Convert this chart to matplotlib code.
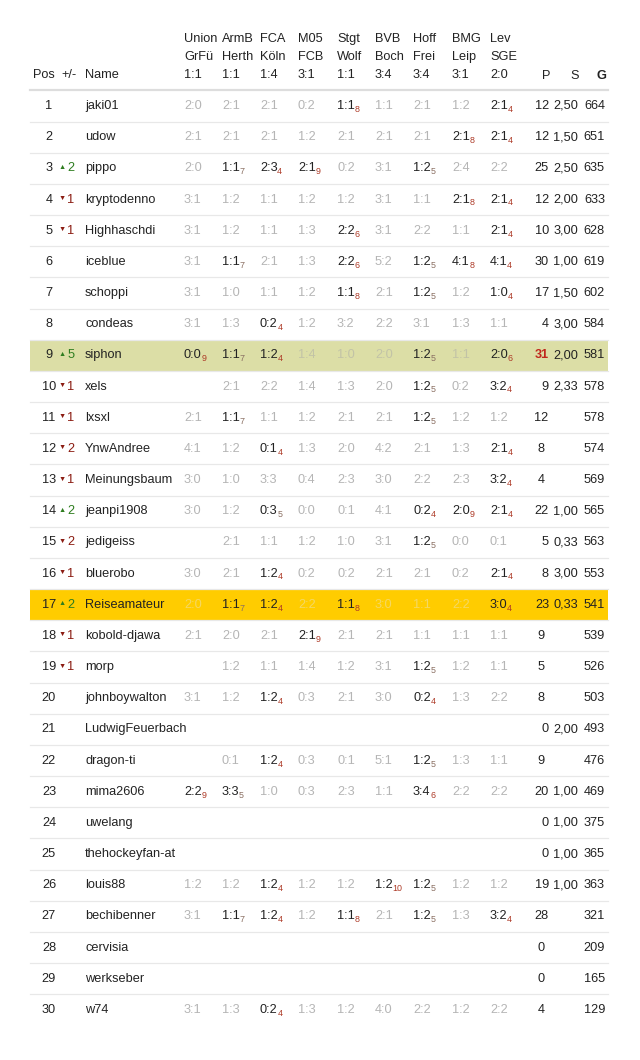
import matplotlib
matplotlib.use('Agg')
import matplotlib.pyplot as plt
from matplotlib.patches import Rectangle

plt.rcParams['font.family'] = ['Liberation Sans', 'DejaVu Sans']

# Kopfzeilen der Spiele
teams_home = ["Union", "ArmB", "FCA", "M05", "Stgt", "BVB", "Hoff", "BMG", "Lev"]
teams_away = ["GrFü", "Herth", "Köln", "FCB", "Wolf", "Boch", "Frei", "Leip", "SGE"]
results = ["1:1", "1:1", "1:4", "3:1", "1:1", "3:4", "3:4", "3:1", "2:0"]

positions = list(range(1, 31))
changes = ["", "", "+2", "-1", "-1", "", "", "", "+5", "-1",
           "-1", "-2", "-1", "+2", "-2", "-1", "+2", "-1", "-1", "",
           "", "", "", "", "", "", "", "", "", ""]
names = ["jaki01", "udow", "pippo", "kryptodenno", "Highhaschdi", "iceblue", "schoppi",
         "condeas", "siphon", "xels", "lxsxl", "YnwAndree", "Meinungsbaum", "jeanpi1908",
         "jedigeiss", "bluerobo", "Reiseamateur", "kobold-djawa", "morp", "johnboywalton",
         "LudwigFeuerbach", "dragon-ti", "mima2606", "uwelang", "thehockeyfan-at",
         "louis88", "bechibenner", "cervisia", "werkseber", "w74"]

# Tipps: "Tipp|Punkte" wenn gepunktet, "" wenn kein Tipp
E = [""] * 9
tips = [
    ["2:0", "2:1", "2:1", "0:2", "1:1|8", "1:1", "2:1", "1:2", "2:1|4"],
    ["2:1", "2:1", "2:1", "1:2", "2:1", "2:1", "2:1", "2:1|8", "2:1|4"],
    ["2:0", "1:1|7", "2:3|4", "2:1|9", "0:2", "3:1", "1:2|5", "2:4", "2:2"],
    ["3:1", "1:2", "1:1", "1:2", "1:2", "3:1", "1:1", "2:1|8", "2:1|4"],
    ["3:1", "1:2", "1:1", "1:3", "2:2|6", "3:1", "2:2", "1:1", "2:1|4"],
    ["3:1", "1:1|7", "2:1", "1:3", "2:2|6", "5:2", "1:2|5", "4:1|8", "4:1|4"],
    ["3:1", "1:0", "1:1", "1:2", "1:1|8", "2:1", "1:2|5", "1:2", "1:0|4"],
    ["3:1", "1:3", "0:2|4", "1:2", "3:2", "2:2", "3:1", "1:3", "1:1"],
    ["0:0|9", "1:1|7", "1:2|4", "1:4", "1:0", "2:0", "1:2|5", "1:1", "2:0|6"],
    ["", "2:1", "2:2", "1:4", "1:3", "2:0", "1:2|5", "0:2", "3:2|4"],
    ["2:1", "1:1|7", "1:1", "1:2", "2:1", "2:1", "1:2|5", "1:2", "1:2"],
    ["4:1", "1:2", "0:1|4", "1:3", "2:0", "4:2", "2:1", "1:3", "2:1|4"],
    ["3:0", "1:0", "3:3", "0:4", "2:3", "3:0", "2:2", "2:3", "3:2|4"],
    ["3:0", "1:2", "0:3|5", "0:0", "0:1", "4:1", "0:2|4", "2:0|9", "2:1|4"],
    ["", "2:1", "1:1", "1:2", "1:0", "3:1", "1:2|5", "0:0", "0:1"],
    ["3:0", "2:1", "1:2|4", "0:2", "0:2", "2:1", "2:1", "0:2", "2:1|4"],
    ["2:0", "1:1|7", "1:2|4", "2:2", "1:1|8", "3:0", "1:1", "2:2", "3:0|4"],
    ["2:1", "2:0", "2:1", "2:1|9", "2:1", "2:1", "1:1", "1:1", "1:1"],
    ["", "1:2", "1:1", "1:4", "1:2", "3:1", "1:2|5", "1:2", "1:1"],
    ["3:1", "1:2", "1:2|4", "0:3", "2:1", "3:0", "0:2|4", "1:3", "2:2"],
    E,
    ["", "0:1", "1:2|4", "0:3", "0:1", "5:1", "1:2|5", "1:3", "1:1"],
    ["2:2|9", "3:3|5", "1:0", "0:3", "2:3", "1:1", "3:4|6", "2:2", "2:2"],
    E,
    E,
    ["1:2", "1:2", "1:2|4", "1:2", "1:2", "1:2|10", "1:2|5", "1:2", "1:2"],
    ["3:1", "1:1|7", "1:2|4", "1:2", "1:1|8", "2:1", "1:2|5", "1:3", "3:2|4"],
    E,
    E,
    ["3:1", "1:3", "0:2|4", "1:3", "1:2", "4:0", "2:2", "1:2", "2:2"],
]
points = [12, 12, 25, 12, 10, 30, 17, 4, 31, 9, 12, 8, 4, 22, 5, 8, 23, 9, 5, 8,
          0, 9, 20, 0, 0, 19, 28, 0, 0, 4]
s_vals = ["2,50", "1,50", "2,50", "2,00", "3,00", "1,00", "1,50", "3,00", "2,00", "2,33",
          "", "", "", "1,00", "0,33", "3,00", "0,33", "", "", "",
          "2,00", "", "1,00", "1,00", "1,00", "1,00", "", "", "", ""]
g_vals = [664, 651, 635, 633, 628, 619, 602, 584, 581, 578, 578, 574, 569, 565, 563,
          553, 541, 539, 526, 503, 493, 476, 469, 375, 365, 363, 321, 209, 165, 129]

# Hervorgehobene Zeilen: Position -> (Hintergrund, Farbe der grauen Tipps)
highlights = {9: ("#dcdea6", "#c2c3a6"), 17: ("#ffcc00", "#f5d862")}

# Layout (Pixel)
W, H = 640, 1060
X_LEFT, X_RIGHT = 30, 608
X_POS, X_ARROW, X_CHG, X_NAME = 49, 62, 67.5, 85
X_GAMES = [184, 222, 260, 298, 337, 375, 413, 452, 490]
X_P, X_P_CENTER, X_S, X_G = 549, 541, 578, 605
Y_HEAD = [39, 57, 75]
Y_LINE_HEAD = 90
Y_FIRST, ROW_H = 106, 31.17

FS = 9.2
DARK = "#222222"
GREY = "#b5b5b5"
UP, DOWN = "#2e7d1f", "#8b1c12"


def sub_color(p):
    return "#8a6f62" if p in (5, 7) else "#ad3a27"


def main():
    fig = plt.figure(figsize=(W / 100, H / 100), dpi=100)
    ax = fig.add_axes([0, 0, 1, 1])
    ax.set_xlim(0, W)
    ax.set_ylim(H, 0)
    ax.axis('off')

    # Kopf
    for i in range(len(teams_home)):
        ax.text(X_GAMES[i], Y_HEAD[0], teams_home[i], fontsize=FS, color=DARK, va='center')
        ax.text(X_GAMES[i], Y_HEAD[1], teams_away[i], fontsize=FS, color=DARK, va='center')
        ax.text(X_GAMES[i], Y_HEAD[2], results[i], fontsize=FS, color=DARK, va='center')
    ax.text(33, Y_HEAD[2], "Pos", fontsize=FS, color=DARK, va='center')
    ax.text(61, Y_HEAD[2], "+/-", fontsize=FS, color=DARK, va='center')
    ax.text(X_NAME, Y_HEAD[2], "Name", fontsize=FS, color=DARK, va='center')
    ax.text(X_P - 3, Y_HEAD[2] + 1, "P", fontsize=FS, color=DARK, va='center', ha='center')
    ax.text(X_S - 3, Y_HEAD[2] + 1, "S", fontsize=FS, color=DARK, va='center', ha='center')
    ax.text(X_G - 4, Y_HEAD[2] + 1, "G", fontsize=FS, color=DARK, va='center', ha='center',
            fontweight='bold')
    ax.plot([X_LEFT, X_RIGHT], [Y_LINE_HEAD, Y_LINE_HEAD], color="#dddddd", lw=1.6)

    for r in range(len(names)):
        y = Y_FIRST + r * ROW_H
        pos = positions[r]
        muted = GREY
        if pos in highlights:
            bg, muted = highlights[pos]
            ax.add_patch(Rectangle((X_LEFT, y - ROW_H / 2), X_RIGHT - X_LEFT, ROW_H,
                                   facecolor=bg, edgecolor='none', zorder=0))
        if r < len(names) - 1:
            ax.plot([X_LEFT, X_RIGHT], [y + ROW_H / 2, y + ROW_H / 2], color="#e8e8e8", lw=0.9,
                    zorder=1)

        ax.text(X_POS, y, str(pos), fontsize=FS, color=DARK, va='center', ha='center')
        chg = changes[r]
        if chg:
            col = UP if chg[0] == "+" else DOWN
            sym = "▲" if chg[0] == "+" else "▼"
            ax.text(X_ARROW, y - 1, sym, fontsize=5.2, color=col, va='center', ha='center')
            ax.text(X_CHG, y, chg[1:], fontsize=FS, color=col, va='center')
        ax.text(X_NAME, y, names[r], fontsize=FS, color=DARK, va='center')

        for c, tip in enumerate(tips[r]):
            if not tip:
                continue
            if "|" in tip:
                score, pts = tip.split("|")
                t = ax.text(X_GAMES[c], y, score, fontsize=FS, color=DARK, va='center')
                ax.annotate(pts, xy=(1, 0), xycoords=t, xytext=(-0.3, -1.4),
                            textcoords='offset points', fontsize=6.4,
                            color=sub_color(int(pts)), va='bottom', ha='left')
            else:
                ax.text(X_GAMES[c], y, tip, fontsize=FS, color=muted, va='center')

        p_col, p_weight = DARK, 'normal'
        if pos == 9:
            p_col, p_weight = "#c0261b", 'bold'
        if s_vals[r]:
            ax.text(X_P, y, str(points[r]), fontsize=FS, color=p_col, va='center', ha='right',
                    fontweight=p_weight)
            ax.text(X_S, y, s_vals[r], fontsize=FS, color=DARK, va='center', ha='right')
        else:
            ax.text(X_P_CENTER, y, str(points[r]), fontsize=FS, color=p_col, va='center',
                    ha='center', fontweight=p_weight)
        ax.text(X_G, y, str(g_vals[r]), fontsize=FS, color=DARK, va='center', ha='right')

    fig.savefig("out.png", dpi=100, facecolor='white')
    plt.close(fig)


if __name__ == "__main__":
    main()
